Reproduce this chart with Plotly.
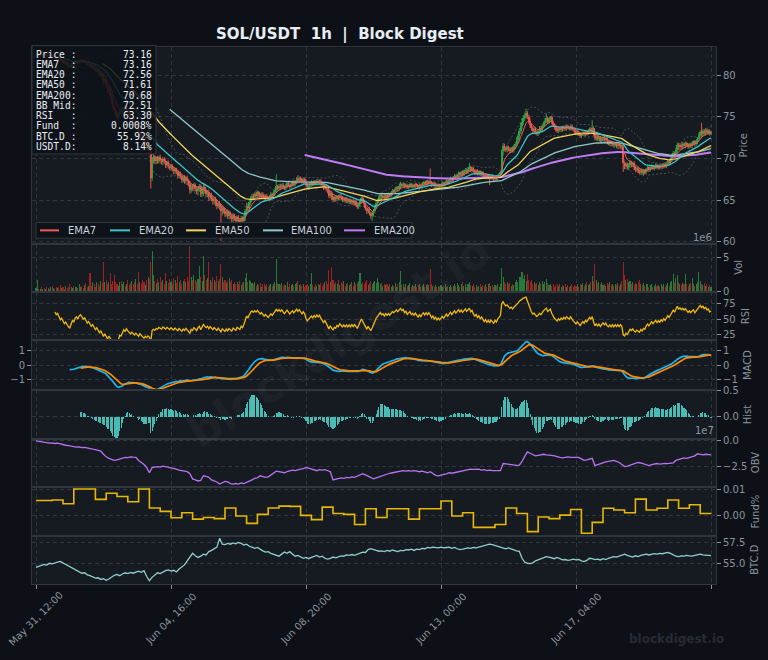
import numpy as np
import pandas as pd
import plotly.graph_objects as go
from plotly.subplots import make_subplots

# ============================ DATA ============================
START = "2024-05-31 12:00"
OPEN0 = 82.30

# hourly closes (SOL/USDT)
closes = [
 82.40, 82.55, 82.35, 82.50, 82.30, 82.45, 82.40, 82.55, 82.35, 82.45,
 82.30, 82.40, 82.20, 82.35, 82.15, 82.00, 82.10, 81.85, 81.70, 81.80,
 81.55, 81.40, 81.50, 81.25, 81.10, 81.00, 81.20, 81.45, 81.35, 81.60,
 81.70, 81.55, 81.80, 81.90, 81.75, 81.60, 81.70, 81.45, 81.30, 81.40,
 81.15, 81.00, 81.10, 80.80, 80.60, 80.70, 80.40, 80.10, 80.20, 79.80,
 79.30, 79.45, 78.70, 78.20, 78.40, 77.60, 76.90, 76.20, 75.80, 75.40,
 75.00, 75.30, 75.80, 75.50, 75.90, 76.20, 75.80, 76.10, 75.60, 75.20,
 74.70, 74.90, 74.40, 74.00, 74.20, 73.60, 73.10, 73.40, 72.70, 72.20,
 71.70, 71.90, 71.30, 71.50, 70.90, 67.60, 69.80, 70.10, 69.60, 70.00,
 69.70, 70.10, 69.80, 69.50, 69.90, 69.60, 69.20, 69.50, 69.10, 68.80,
 69.10, 68.70, 68.40, 68.70, 68.30, 67.90, 68.20, 67.80, 67.40, 67.70,
 67.30, 67.60, 67.20, 66.90, 66.20, 66.70, 66.40, 66.80, 66.30, 66.00,
 66.40, 66.60, 65.70, 66.00, 66.50, 66.10, 65.70, 65.90, 65.30, 65.60,
 65.20, 64.80, 65.10, 64.60, 64.30, 64.60, 64.20, 63.60, 64.00, 63.70,
 63.30, 63.60, 63.10, 63.40, 63.00, 62.70, 63.10, 62.80, 62.50, 62.90,
 62.60, 62.40, 62.80, 62.50, 62.90, 63.60, 64.30, 64.00, 64.70, 65.20,
 65.50, 65.30, 65.70, 65.50, 65.90, 65.60, 65.40, 65.70, 65.40, 65.20,
 65.50, 65.30, 65.10, 65.40, 65.70, 65.50, 65.90, 66.20, 66.60, 66.40,
 66.70, 66.50, 66.80, 66.60, 66.40, 66.70, 67.00, 66.80, 66.60, 66.90,
 67.10, 66.90, 67.20, 67.50, 67.30, 67.60, 67.40, 67.20, 67.50, 67.30,
 66.80, 66.50, 66.70, 66.90, 67.10, 66.90, 67.20, 67.00, 67.30, 67.10,
 67.30, 67.00, 66.80, 66.50, 66.70, 66.30, 66.00, 65.50, 65.80, 65.30,
 65.00, 65.30, 65.10, 65.40, 65.20, 65.50, 65.30, 65.00, 65.20, 64.90,
 65.10, 64.80, 65.00, 64.70, 64.90, 64.60, 64.80, 64.40, 64.20, 64.50,
 64.80, 65.20, 64.90, 64.50, 64.00, 63.60, 63.90, 63.40, 63.00, 63.30,
 63.70, 64.20, 64.60, 64.90, 65.30, 65.60, 65.30, 65.50, 65.20, 65.60,
 65.40, 65.70, 65.50, 65.80, 66.10, 66.00, 66.30, 66.50, 66.30, 66.60,
 66.90, 66.70, 66.90, 66.60, 66.80, 66.50, 66.70, 66.90, 66.60, 66.80,
 66.60, 66.90, 66.70, 66.50, 66.80, 66.60, 66.90, 67.10, 66.90, 67.20,
 67.00, 67.30, 67.10, 66.80, 67.00, 66.70, 66.90, 66.60, 66.80, 66.60,
 66.80, 67.00, 66.80, 67.10, 67.30, 67.10, 67.40, 67.60, 67.40, 67.70,
 67.90, 67.70, 68.00, 68.20, 68.00, 68.30, 68.10, 68.40, 68.60, 68.40,
 68.70, 68.90, 68.60, 68.80, 68.50, 68.30, 68.50, 68.20, 68.40, 68.10,
 68.30, 68.00, 67.80, 68.00, 67.70, 67.90, 67.60, 67.90, 67.70, 67.50,
 67.80, 67.60, 67.90, 68.10, 68.30, 70.80, 71.50, 71.20, 71.00, 71.30,
 71.10, 70.90, 71.20, 71.00, 71.40, 71.70, 72.20, 72.60, 73.30, 73.90,
 74.40, 74.80, 75.10, 75.40, 75.00, 74.50, 74.00, 73.60, 73.30, 73.50,
 73.20, 73.00, 73.30, 73.60, 73.40, 73.90, 74.20, 74.50, 74.80, 74.40,
 74.60, 74.90, 74.40, 74.00, 73.70, 73.50, 73.30, 73.60, 73.40, 73.70,
 73.50, 73.80, 73.60, 73.90, 73.70, 73.60, 73.90, 73.60, 73.40, 73.20,
 73.00, 73.20, 72.90, 72.70, 72.90, 73.10, 72.90, 73.20, 73.00, 73.30,
 73.50, 73.30, 73.60, 73.00, 72.40, 72.60, 72.30, 72.50, 72.10, 72.30,
 72.50, 72.20, 72.40, 72.00, 71.80, 72.00, 71.70, 71.90, 71.60, 71.80,
 71.50, 71.70, 71.40, 71.60, 71.30, 69.40, 69.00, 69.30, 68.90, 69.20,
 69.50, 69.20, 69.40, 68.90, 68.60, 68.80, 68.50, 68.30, 68.60, 68.20,
 68.50, 68.30, 68.70, 68.90, 68.60, 68.90, 69.10, 68.80, 69.00, 69.20,
 68.90, 69.10, 68.90, 69.20, 69.00, 69.30, 69.10, 69.40, 69.70, 69.50,
 69.90, 70.30, 70.60, 70.40, 71.00, 71.60, 71.30, 71.60, 71.40, 71.70,
 71.50, 71.80, 71.60, 71.40, 71.70, 71.50, 71.80, 72.00, 71.70, 72.00,
 72.30, 72.80, 73.10, 72.90, 73.30, 73.00, 73.40, 73.10, 73.30, 73.00,
 73.16,
]

# upper / lower wick beyond the body, in cents
wick_hi = [
 12, 15, 8, 10, 14, 9, 11, 7, 13, 10, 9, 12, 8, 14, 10, 7, 11, 9, 12, 8,
 10, 13, 9, 11, 8, 12, 10, 14, 9, 11, 8, 12, 10, 9, 13, 11, 8, 15, 10, 12,
 18, 14, 20, 16, 12, 22, 15, 18, 25, 20, 30, 22, 18, 26, 20, 24, 30, 19, 22, 28,
 20, 26, 18, 24, 30, 21, 17, 25, 19, 23, 28, 20, 16, 22, 18, 25, 30, 19, 21, 17,
 24, 20, 27, 18, 22, 26, 30, 35, 28, 22, 30, 24, 35, 20, 28, 25, 32, 22, 26, 19,
 25, 20, 28, 22, 18, 30, 24, 20, 26, 22, 30, 25, 35, 20, 40, 28, 24, 30, 22, 26,
 30, 35, 28, 24, 45, 30, 26, 32, 38, 22, 28, 34, 25, 30, 36, 24, 28, 30, 40, 26,
 32, 25, 30, 36, 22, 28, 34, 24, 30, 26, 28, 22, 30, 25, 28, 35, 40, 30, 34, 28,
 26, 30, 22, 28, 24, 20, 26, 22, 25, 30, 20, 24, 18, 22, 26, 20, 24, 28, 150, 25,
 22, 26, 20, 24, 18, 25, 28, 20, 23, 19, 24, 28, 20, 26, 50, 22, 25, 18, 23, 20,
 22, 18, 25, 20, 28, 19, 22, 17, 24, 20, 18, 23, 19, 26, 21, 24, 20, 25, 22, 28,
 24, 20, 26, 19, 23, 21, 25, 18, 22, 20, 24, 19, 23, 17, 22, 20, 25, 18, 21, 24,
 26, 20, 24, 18, 22, 25, 19, 23, 20, 26, 24, 28, 30, 26, 32, 24, 28, 22, 26, 20,
 18, 22, 16, 20, 24, 17, 21, 15, 19, 23, 30, 18, 22, 16, 20, 17, 21, 24, 16, 19,
 17, 21, 15, 19, 23, 16, 20, 18, 15, 22, 24, 18, 150, 20, 16, 18, 22, 15, 19, 17,
 16, 20, 18, 15, 21, 17, 19, 22, 16, 20, 24, 18, 22, 26, 19, 23, 28, 20, 25, 21,
 26, 60, 22, 25, 19, 23, 18, 22, 20, 17, 21, 19, 16, 22, 18, 20, 17, 15, 21, 18,
 19, 22, 17, 20, 18, 30, 35, 28, 24, 30, 22, 26, 20, 25, 28, 30, 35, 32, 38, 40,
 42, 38, 35, 60, 30, 28, 32, 25, 30, 24, 28, 22, 26, 30, 34, 28, 25, 32, 60, 26,
 24, 20, 26, 18, 22, 25, 19, 23, 17, 21, 24, 18, 22, 20, 16, 21, 19, 23, 17, 20,
 18, 22, 16, 20, 24, 17, 21, 19, 23, 18, 22, 26, 100, 24, 20, 25, 18, 22, 19, 23,
 20, 24, 18, 22, 19, 23, 17, 21, 20, 18, 22, 25, 19, 23, 20, 30, 28, 25, 22, 26,
 30, 24, 20, 26, 22, 19, 24, 20, 23, 18, 25, 21, 19, 24, 20, 18, 22, 16, 20, 23,
 17, 21, 19, 16, 22, 18, 20, 24, 17, 21, 25, 28, 30, 24, 32, 35, 26, 30, 24, 28,
 22, 26, 20, 24, 18, 22, 26, 19, 23, 21, 25, 30, 28, 120, 26, 22, 28, 20, 24, 21,
 18,
]
wick_lo = [
 10, 13, 9, 12, 8, 11, 14, 9, 12, 10, 8, 13, 11, 9, 12, 10, 14, 8, 11, 13,
 9, 12, 10, 14, 11, 8, 13, 10, 12, 9, 14, 11, 10, 13, 9, 12, 15, 10, 13, 11,
 20, 16, 22, 18, 14, 25, 20, 16, 28, 24, 35, 26, 22, 30, 24, 28, 34, 22, 26, 30,
 24, 28, 20, 26, 32, 22, 18, 28, 22, 25, 30, 24, 20, 26, 22, 28, 34, 24, 20, 26,
 28, 22, 30, 24, 26, 120, 30, 40, 30, 26, 32, 28, 38, 24, 30, 28, 34, 26, 30, 22,
 28, 24, 32, 26, 22, 34, 28, 24, 30, 26, 35, 28, 40, 24, 45, 30, 28, 34, 26, 30,
 35, 40, 30, 28, 50, 34, 30, 36, 42, 26, 32, 38, 30, 34, 40, 28, 32, 350, 45, 30,
 36, 28, 34, 40, 26, 32, 38, 28, 34, 30, 32, 26, 34, 28, 30, 38, 42, 34, 36, 30,
 28, 32, 24, 30, 26, 22, 28, 24, 27, 32, 22, 26, 20, 24, 28, 22, 26, 30, 28, 26,
 24, 28, 22, 26, 20, 27, 30, 22, 25, 21, 26, 30, 22, 28, 30, 24, 27, 20, 25, 22,
 24, 20, 27, 22, 30, 21, 24, 19, 26, 22, 20, 25, 21, 28, 23, 26, 22, 28, 24, 32,
 26, 22, 28, 21, 25, 23, 27, 20, 24, 22, 26, 21, 25, 19, 24, 22, 27, 20, 23, 26,
 28, 22, 26, 20, 24, 27, 21, 25, 22, 50, 26, 30, 28, 24, 30, 22, 26, 20, 24, 18,
 16, 20, 18, 22, 26, 15, 19, 17, 21, 25, 28, 16, 20, 18, 22, 15, 19, 22, 18, 17,
 19, 23, 17, 21, 25, 18, 22, 20, 17, 24, 26, 20, 22, 22, 18, 20, 24, 17, 21, 19,
 18, 22, 20, 17, 23, 19, 21, 24, 18, 22, 26, 20, 24, 28, 21, 25, 30, 22, 27, 23,
 28, 30, 24, 27, 21, 25, 20, 24, 22, 19, 23, 21, 18, 24, 20, 22, 80, 17, 23, 20,
 21, 24, 19, 22, 20, 25, 30, 26, 22, 28, 24, 28, 22, 27, 30, 26, 30, 28, 34, 36,
 38, 34, 30, 32, 28, 30, 34, 27, 32, 26, 30, 24, 28, 32, 30, 26, 27, 30, 28, 28,
 26, 22, 28, 20, 24, 27, 21, 25, 19, 23, 26, 20, 24, 22, 18, 23, 21, 25, 19, 22,
 20, 24, 18, 22, 26, 19, 23, 21, 25, 20, 24, 28, 26, 26, 22, 27, 20, 24, 21, 25,
 22, 26, 20, 24, 21, 25, 19, 23, 22, 20, 24, 27, 21, 25, 22, 100, 30, 27, 24, 28,
 32, 26, 22, 28, 24, 21, 26, 22, 25, 20, 27, 23, 21, 26, 22, 20, 24, 18, 22, 25,
 19, 23, 21, 18, 24, 20, 22, 26, 19, 23, 27, 30, 28, 26, 30, 32, 28, 26, 22, 26,
 24, 28, 22, 26, 20, 24, 28, 21, 25, 23, 27, 26, 30, 28, 24, 20, 26, 22, 25, 23,
 20,
]

# hourly volume, millions
volumes_m = [
 0.6, 1.7, 0.5, 0.4, 0.7, 0.5, 0.6, 0.4, 0.8, 0.6,
 0.5, 0.7, 0.9, 0.6, 0.5, 0.8, 0.6, 0.7, 1.0, 0.6,
 0.7, 0.5, 0.9, 0.6, 0.8, 1.1, 0.7, 0.6, 0.9, 0.7,
 0.8, 0.6, 1.2, 0.7, 0.9, 0.6, 1.0, 1.3, 0.8, 0.9,
 2.7, 0.9, 1.4, 1.1, 0.8, 1.5, 1.2, 0.9, 1.6, 1.3,
 4.3, 1.4, 1.8, 1.1, 1.5, 2.7, 1.2, 1.6, 2.5, 1.4,
 1.2, 0.9, 1.5, 1.6, 1.1, 1.4, 0.9, 1.2, 1.7, 1.0,
 1.3, 1.6, 1.1, 1.4, 1.9, 1.2, 2.9, 1.5, 1.1, 1.8,
 1.4, 1.0, 1.7, 2.1, 1.9, 4.3, 5.9, 2.4, 1.6, 1.3,
 1.9, 1.4, 2.2, 1.5, 1.8, 1.2, 2.7, 1.6, 1.3, 1.9,
 1.5, 1.2, 2.0, 1.7, 1.3, 2.3, 1.4, 1.8, 1.2, 1.6,
 1.9, 1.4, 2.1, 1.6, 6.6, 2.2, 1.7, 2.5, 1.8, 1.5,
 1.9, 3.8, 2.2, 1.6, 5.2, 2.4, 1.8, 2.0, 4.3, 1.7,
 1.5, 2.1, 1.8, 1.4, 2.3, 1.6, 1.9, 4.1, 2.2, 1.5,
 1.8, 1.3, 1.6, 2.0, 1.4, 1.7, 1.2, 1.5, 1.1, 1.4,
 1.2, 1.6, 1.0, 1.3, 1.5, 2.0, 2.7, 1.4, 1.8, 1.6,
 1.3, 1.1, 1.4, 0.9, 1.2, 1.0, 1.3, 0.8, 1.1, 1.2,
 0.9, 1.1, 0.8, 1.0, 1.2, 0.9, 1.1, 1.4, 4.8, 1.3,
 1.1, 1.0, 1.3, 0.9, 1.2, 1.0, 1.4, 0.8, 1.1, 1.0,
 1.2, 0.9, 1.1, 1.3, 1.6, 1.0, 1.2, 0.9, 1.1, 0.8,
 1.0, 1.2, 0.9, 1.1, 2.7, 1.0, 0.8, 1.1, 0.9, 1.2,
 1.0, 1.3, 0.9, 1.1, 1.4, 1.6, 1.2, 3.2, 1.5, 3.6,
 1.8, 1.2, 1.5, 1.1, 1.7, 1.0, 1.4, 1.2, 1.6, 0.9,
 1.1, 1.3, 1.0, 1.2, 1.5, 0.9, 1.4, 1.1, 1.3, 1.6,
 2.7, 1.2, 1.5, 1.1, 1.4, 1.7, 1.0, 1.3, 1.6, 1.2,
 1.4, 1.6, 1.3, 2.0, 1.5, 1.1, 1.3, 0.9, 1.2, 1.0,
 1.1, 0.9, 1.2, 0.8, 1.0, 0.9, 1.3, 0.8, 1.1, 1.4,
 3.1, 1.0, 1.2, 0.8, 1.1, 0.9, 1.0, 1.3, 0.8, 1.0,
 0.9, 1.1, 0.8, 1.0, 1.2, 0.7, 0.9, 1.1, 0.8, 1.0,
 1.2, 1.0, 3.3, 1.1, 0.9, 0.8, 1.0, 0.7, 0.9, 0.8,
 1.0, 0.8, 0.9, 1.1, 0.7, 0.9, 0.8, 1.0, 0.7, 0.9,
 1.1, 0.9, 1.3, 1.0, 0.8, 1.2, 1.4, 0.9, 1.1, 0.8,
 1.2, 1.5, 1.0, 0.9, 1.1, 0.8, 1.0, 0.7, 0.9, 1.1,
 0.8, 1.0, 0.9, 1.2, 0.8, 1.1, 1.3, 0.9, 1.0, 0.8,
 1.0, 0.9, 1.1, 0.8, 1.2, 3.4, 2.2, 1.5, 1.2, 1.4,
 1.1, 1.3, 0.9, 1.2, 1.0, 1.5, 1.8, 1.4, 2.1, 2.2,
 2.9, 1.9, 2.4, 1.6, 2.6, 1.8, 1.4, 1.7, 1.2, 1.5,
 1.1, 1.3, 1.0, 1.4, 1.2, 1.6, 1.1, 1.5, 1.9, 1.3,
 1.0, 1.2, 0.9, 1.1, 0.8, 1.0, 1.2, 0.9, 1.1, 0.8,
 1.0, 0.9, 1.1, 0.8, 1.0, 0.7, 0.9, 1.1, 0.8, 1.0,
 0.9, 1.1, 0.8, 1.2, 1.0, 1.3, 0.9, 1.1, 1.4, 1.0,
 1.2, 1.5, 2.3, 1.6, 4.0, 1.8, 1.3, 1.5, 1.1, 1.4,
 1.0, 1.2, 0.9, 1.3, 1.1, 1.5, 1.0, 1.2, 0.9, 1.1,
 1.0, 1.3, 0.9, 1.2, 1.6, 4.4, 2.5, 1.7, 1.9, 1.4,
 1.6, 1.2, 1.5, 1.0, 1.3, 1.1, 1.4, 1.8, 1.2, 1.0,
 1.3, 0.9, 1.1, 1.2, 0.8, 1.0, 1.1, 0.8, 0.9, 1.2,
 0.9, 1.0, 0.8, 1.1, 0.9, 1.2, 0.8, 1.0, 1.3, 0.9,
 1.4, 1.6, 2.6, 1.3, 2.0, 2.4, 1.5, 1.2, 1.0, 1.3,
 1.1, 2.6, 1.2, 0.9, 1.1, 1.3, 2.0, 1.1, 0.9, 1.2,
 1.4, 2.9, 1.6, 1.2, 1.0, 1.3, 0.9, 1.1, 0.8, 1.0,
 0.7,
]

# BTC dominance %, every 2 hours
btcd_2h = [
 54.50, 54.62, 54.70, 54.85, 54.78, 55.00, 54.92, 55.08, 55.15, 55.22,
 55.05, 54.90, 54.65, 54.50, 54.30, 54.15, 53.95, 53.80, 53.85, 53.60,
 53.50, 53.35, 53.20, 53.25, 53.05, 53.15, 52.95, 53.10, 53.35, 53.55,
 53.65, 53.50, 53.70, 53.85, 53.75, 53.90, 53.80, 53.95, 54.05, 53.90,
 54.10, 53.40, 52.90, 53.30, 53.60, 53.85, 53.75, 53.95, 54.10, 54.20,
 54.05, 54.15, 53.95, 54.30, 54.60, 54.80, 55.30, 55.80, 56.20, 55.90,
 55.70, 55.85, 56.10, 56.00, 56.40, 56.55, 56.80, 56.95, 58.00, 57.30,
 57.25, 57.40, 57.30, 57.45, 57.35, 57.50, 57.40, 57.20, 57.30, 57.05,
 56.95, 56.80, 56.90, 56.65, 56.50, 56.35, 56.40, 56.20, 56.05, 55.95,
 55.85, 56.10, 56.35, 56.20, 56.40, 56.10, 55.85, 55.95, 55.75, 55.60,
 55.70, 55.55, 55.70, 55.85, 55.95, 55.75, 55.85, 55.60, 55.50, 55.60,
 55.75, 55.65, 55.80, 55.90, 55.85, 56.00, 55.95, 56.05, 55.95, 56.10,
 56.20, 56.35, 56.30, 56.65, 56.75, 56.60, 56.55, 56.45, 56.50, 56.40,
 56.55, 56.45, 56.60, 56.50, 56.40, 56.55, 56.50, 56.65, 56.60, 56.70,
 56.55, 56.70, 56.65, 56.80, 56.75, 56.90, 56.85, 56.95, 56.90, 56.85,
 56.95, 56.85, 56.90, 56.95, 56.80, 56.90, 56.75, 56.65, 56.70, 56.75,
 56.85, 56.80, 56.90, 56.85, 56.95, 57.05, 57.10, 57.20, 57.30, 57.25,
 57.15, 57.05, 56.95, 56.80, 56.75, 56.85, 56.70, 56.60, 56.50, 56.45,
 55.60, 55.15, 55.00, 54.95, 55.05, 55.30, 55.45, 55.55, 55.70, 55.80,
 55.75, 55.60, 55.55, 55.70, 55.50, 55.40, 55.45, 55.35, 55.40, 55.50,
 55.40, 55.45, 55.30, 55.20, 55.35, 55.60, 55.55, 55.45, 55.50, 55.40,
 55.55, 55.45, 55.60, 55.70, 55.80, 55.75, 55.90, 56.00, 56.10, 55.95,
 55.85, 55.75, 55.90, 55.80, 55.95, 56.05, 56.10, 56.00, 56.05, 56.15,
 56.10, 56.20, 56.15, 56.25, 56.30, 56.20, 56.05, 55.85, 55.80, 55.90,
 55.85, 55.95, 55.90, 55.85, 55.95, 56.05, 56.10, 56.00, 55.95, 55.90,
 55.92,
]

# On-balance volume, x1e7, every 2 hours
obv_2h = [
 0.00, -0.05, -0.10, -0.08, -0.18, -0.22, -0.20, -0.25, -0.22, -0.30,
 -0.35, -0.42, -0.45, -0.52, -0.55, -0.60, -0.58, -0.65, -0.62, -0.70,
 -0.75, -0.80, -0.85, -0.95, -1.00, -1.30, -1.55, -1.70, -1.80, -1.90,
 -1.85, -1.75, -1.65, -1.60, -1.62, -1.55, -1.58, -1.60, -1.90, -2.10,
 -2.30, -2.60, -3.10, -2.60, -2.55, -2.50, -2.55, -2.45, -2.50, -2.55,
 -2.60, -2.70, -2.75, -2.85, -2.90, -2.95, -3.00, -3.20, -3.70, -3.80,
 -3.90, -3.85, -3.40, -3.45, -3.55, -3.80, -3.90, -4.00, -4.20, -4.10,
 -3.95, -4.00, -4.15, -4.20, -4.15, -4.20, -4.10, -4.15, -4.05, -3.95,
 -3.80, -3.65, -3.60, -3.40, -3.45, -3.55, -3.50, -3.30, -3.10, -2.95,
 -3.00, -3.05, -3.10, -3.00, -2.95, -2.85, -2.90, -2.80, -2.75, -2.70,
 -2.60, -2.65, -2.75, -2.85, -2.90, -2.80, -2.85, -2.80, -2.90, -3.00,
 -3.80, -3.75, -3.70, -3.60, -3.65, -3.55, -3.60, -3.50, -3.55, -3.45,
 -3.35, -3.20, -3.30, -3.45, -3.60, -3.70, -3.60, -3.50, -3.40, -3.35,
 -3.25, -3.15, -3.10, -3.05, -3.00, -2.95, -2.90, -2.95, -2.90, -2.95,
 -2.90, -2.95, -3.00, -2.95, -3.05, -3.10, -3.00, -3.20, -3.35, -3.40,
 -3.30, -3.25, -3.20, -3.10, -3.15, -3.10, -3.05, -3.00, -2.95, -2.90,
 -2.80, -2.75, -2.78, -2.80, -2.75, -2.85, -2.80, -2.90, -2.85, -2.90,
 -2.92, -2.88, -2.90, -2.20, -2.25, -2.30, -2.35, -2.40, -2.38, -2.35,
 -2.00, -1.50, -1.06, -1.20, -1.35, -1.45, -1.40, -1.35, -1.30, -1.35,
 -1.35, -1.40, -1.45, -1.55, -1.60, -1.65, -1.60, -1.55, -1.60, -1.58,
 -1.55, -1.60, -1.75, -1.90, -1.85, -1.80, -1.70, -2.40, -2.30, -2.20,
 -2.10, -2.05, -2.00, -1.95, -1.90, -2.00, -2.10, -2.30, -2.50, -2.45,
 -2.35, -2.30, -2.20, -2.10, -2.15, -2.25, -2.35, -2.40, -2.30, -2.25,
 -2.20, -2.25, -2.20, -2.18, -2.22, -2.20, -2.15, -1.90, -1.80, -1.75,
 -1.65, -1.70, -1.60, -1.55, -1.45, -1.25, -1.30, -1.35, -1.30, -1.32,
 -1.35,
]

# funding rate %, 8-hour settlements
funding_hours = [0] + list(range(4, 501, 8))
funding_pct = [
 0.0058, 0.0058, 0.0060, 0.0046, 0.0101, 0.0101, 0.0062, 0.0085, 0.0073, 0.0053,
 0.0101, 0.0030, 0.0017, -0.0007, 0.0012, -0.0012, -0.0006, -0.0010, 0.0030, 0.0000,
 -0.0028, 0.0006, 0.0030, 0.0037, 0.0036, 0.0002, -0.0014, 0.0033, 0.0009, 0.0006,
 -0.0032, 0.0027, -0.0006, 0.0027, 0.0027, -0.0012, 0.0027, 0.0027, 0.0056, 0.0000,
 0.0012, -0.0043, -0.0043, -0.0032, 0.0030, 0.0009, -0.0059, -0.0004, -0.0010, 0.0003,
 0.0024, -0.0065, -0.0024, 0.0029, 0.0022, 0.0012, 0.0063, 0.0022, 0.0029, 0.0060,
 0.0029, 0.0042, 0.0009, 0.0008,
]

# info box values
info_labels = ["Price :", "EMA7  :", "EMA20 :", "EMA50 :", "EMA200:",
               "BB Mid:", "RSI   :", "Fund  :", "BTC.D :", "USDT.D:"]
info_values = ["73.16", "73.16", "72.56", "71.61", "70.68",
               "72.51", "63.30", "0.0008%", "55.92%", "8.14%"]

x_tick_hours = [0, 100, 200, 300, 400, 500]
x_tick_text = ["May 31, 12:00", "Jun 04, 16:00", "Jun 08, 20:00",
               "Jun 13, 00:00", "Jun 17, 04:00", ""]

TITLE = "SOL/USDT\u00a0\u00a01h\u00a0\u00a0|\u00a0\u00a0Block Digest"

# ============================ STYLE ============================
W, H = 768, 660
BG = "#0d1117"
PANEL = "#161b22"
GRID = "#30363d"
SPINE = "#30363d"
TXT = "#8b949e"
UP = "#2ea043"
DN = "#e5534b"
C_EMA = {7: "#ef5b5b", 20: "#3cc4c8", 50: "#f2d45c", 100: "#8fc9c9", 200: "#c07cf5"}
W_EMA = {7: 1.0, 20: 1.3, 50: 1.3, 100: 1.3, 200: 2.0}


def px(x):
    return x / W


def py(y):
    return 1 - y / H


# ============================ DERIVED ============================
n = min(len(closes), len(wick_hi), len(wick_lo), len(volumes_m))
t0 = pd.Timestamp(START)
t = pd.date_range(START, periods=n, freq="h")
c = pd.Series(closes[:n], dtype=float)
o = c.shift(1)
o.iloc[0] = OPEN0
hi = (np.maximum(o, c) + np.asarray(wick_hi[:n], dtype=float) / 100.0).to_numpy()
lo = (np.minimum(o, c) - np.asarray(wick_lo[:n], dtype=float) / 100.0).to_numpy()
vol = np.asarray(volumes_m[:n], dtype=float) * 1e6
up = (c >= o).to_numpy()


def ema(s, p):
    return s.ewm(span=p, adjust=False, min_periods=p).mean()


emas = {p: ema(c, p) for p in (7, 20, 50, 100, 200)}
bb_mid = c.rolling(20).mean()
bb_sd = c.rolling(20).std()
bb_up = bb_mid + 2 * bb_sd
bb_lo = bb_mid - 2 * bb_sd

d = c.diff()
ag = d.clip(lower=0).ewm(alpha=1 / 14, adjust=False, min_periods=14).mean()
al = (-d).clip(lower=0).ewm(alpha=1 / 14, adjust=False, min_periods=14).mean()
rsi = 100 - 100 / (1 + ag / al)

macd = ema(c, 12) - ema(c, 26)
signal = macd.ewm(span=9, adjust=False, min_periods=9).mean()
hist = macd - signal

t2 = pd.date_range(START, periods=len(btcd_2h), freq="2h")
t2o = pd.date_range(START, periods=len(obv_2h), freq="2h")
tf = [t0 + pd.Timedelta(hours=hh) for hh in funding_hours[:len(funding_pct)]]

# ============================ FIGURE ============================
fig = make_subplots(rows=8, cols=1, shared_xaxes=True, vertical_spacing=0,
                    row_heights=[4, 1, 1, 1, 1, 1, 1, 1])

for band in (bb_up, bb_lo):
    fig.add_trace(go.Scatter(x=t, y=band, mode="lines",
                             line=dict(color="rgba(139,148,158,0.55)", width=0.8, dash="2px,2px"),
                             hoverinfo="skip", showlegend=False), row=1, col=1)

# candles: wicks + bodies
bar_w = 0.8 * 3600 * 1000
body_base = np.minimum(o, c).to_numpy()
body_h = np.maximum(np.abs((c - o).to_numpy()), 0.03)
for mask, col in ((up, UP), (~up, DN)):
    idx = np.where(mask)[0]
    wx, wy = [], []
    for i in idx:
        wx += [t[i], t[i], None]
        wy += [lo[i], hi[i], None]
    fig.add_trace(go.Scatter(x=wx, y=wy, mode="lines", line=dict(color=col, width=1),
                             hoverinfo="skip", showlegend=False), row=1, col=1)
    fig.add_trace(go.Bar(x=t[idx], y=body_h[idx], base=body_base[idx], width=bar_w,
                         marker=dict(color=col, line=dict(width=0)), showlegend=False),
                  row=1, col=1)

for p in (200, 100, 50, 20, 7):
    fig.add_trace(go.Scatter(x=t, y=emas[p], mode="lines", name=f"EMA{p}",
                             line=dict(color=C_EMA[p], width=W_EMA[p]),
                             showlegend=False), row=1, col=1)

vcol = np.where(up, "rgba(46,160,67,0.72)", "rgba(200,35,35,0.78)")
fig.add_trace(go.Bar(x=t, y=vol, marker=dict(color=vcol, line=dict(width=0)),
                     width=bar_w, showlegend=False), row=2, col=1)

fig.add_trace(go.Scatter(x=t, y=rsi, mode="lines", line=dict(color="#f0b90b", width=1.3),
                         showlegend=False), row=3, col=1)

fig.add_trace(go.Scatter(x=t, y=macd, mode="lines", line=dict(color="#1eb4f0", width=1.7),
                         showlegend=False), row=4, col=1)
fig.add_trace(go.Scatter(x=t, y=signal, mode="lines", line=dict(color="#ff8c00", width=1.7),
                         showlegend=False), row=4, col=1)

fig.add_trace(go.Bar(x=t, y=hist, marker=dict(color="rgba(78,205,196,0.9)", line=dict(width=0)),
                     width=bar_w, showlegend=False), row=5, col=1)

fig.add_trace(go.Scatter(x=t2o, y=np.asarray(obv_2h) * 1e7, mode="lines",
                         line=dict(color="#b972f0", width=1.3), showlegend=False), row=6, col=1)

fig.add_trace(go.Scatter(x=tf, y=funding_pct, mode="lines", line_shape="hv",
                         line=dict(color="#e6b800", width=1.6), showlegend=False), row=7, col=1)

fig.add_trace(go.Scatter(x=t2, y=btcd_2h, mode="lines",
                         line=dict(color="#8fd0c8", width=1.3), showlegend=False), row=8, col=1)

fig.add_trace(go.Scatter(x=[t0], y=[None], mode="markers", marker=dict(opacity=0),
                         xaxis="x4", yaxis="y9", showlegend=False, hoverinfo="skip"))

# ============================ AXES ============================
bounds = [44, 243, 292, 341, 391, 441, 490, 539, 588]
yranges = [
    [59.76, 83.36], [-0.04e6, 6.92e6], [15.3, 94.4], [-1.695, 1.695],
    [-0.425, 0.519], [-4.52e7, 0.19e7], [-0.0074, 0.01074], [52.5, 58.33],
]
yticks = [
    ([60, 65, 70, 75, 80], ["60", "65", "70", "75", "80"]),
    ([0, 5e6], ["0", "5"]),
    ([25, 50, 75], ["25", "50", "75"]),
    ([-1, 0, 1], ["\u22121", "0", "1"]),
    ([0, 0.5], ["0.0", "0.5"]),
    ([-2.5e7, 0], ["\u22122.5", "0.0"]),
    ([0, 0.01], ["0.00", "0.01"]),
    ([55, 57.5], ["55.0", "57.5"]),
]
xr = [t0 + pd.Timedelta(hours=-2.96), t0 + pd.Timedelta(hours=503.7)]
xtv = [t0 + pd.Timedelta(hours=hh) for hh in x_tick_hours]
xdom = [px(32), px(716)]

common = dict(showline=True, mirror=True, linecolor=SPINE, linewidth=1, zeroline=False,
              showgrid=True, gridcolor=GRID, gridwidth=0.7, griddash="4px,3px",
              tickfont=dict(family="DejaVu Sans", size=10, color=TXT),
              tickcolor=TXT, ticklen=4, tickwidth=1, fixedrange=True)

for i in range(8):
    k = "" if i == 0 else str(i + 1)
    last = (i == 7)
    fig.layout["xaxis" + k].update(
        domain=xdom, range=xr, tickvals=xtv, tickmode="array",
        showticklabels=False, ticks="outside" if last else "",
        rangeslider=dict(visible=False), **common)
    fig.layout["yaxis" + k].update(
        domain=[py(bounds[i + 1]), py(bounds[i])], range=yranges[i], side="right",
        tickmode="array", tickvals=yticks[i][0], ticktext=yticks[i][1],
        ticks="outside", **common)

fig.update_layout(yaxis9=dict(overlaying="y4", anchor="x4", side="left", range=yranges[3],
                              tickmode="array", tickvals=[-1, 0, 1],
                              ticktext=["\u22121", "0", "1"], ticks="outside", ticklen=4,
                              tickcolor=TXT, showgrid=False, zeroline=False, showline=False,
                              tickfont=dict(family="DejaVu Sans", size=10, color=TXT),
                              fixedrange=True))

fig.update_layout(width=W, height=H, margin=dict(l=0, r=0, t=0, b=0),
                  paper_bgcolor=BG, plot_bgcolor=PANEL, showlegend=False,
                  barmode="overlay", bargap=0, hovermode=False,
                  font=dict(family="DejaVu Sans", size=10, color=TXT))

# ============================ ANNOTATIONS ============================
ann = []
shapes = []

ann.append(dict(text="<b>" + TITLE + "</b>", x=px(340), y=py(31), xref="paper", yref="paper",
                showarrow=False, xanchor="center", yanchor="middle",
                font=dict(family="DejaVu Sans", size=15, color="#e6edf3")))

ann.append(dict(text="<b>blockdigest.io</b>", x=px(338), y=py(342), xref="paper", yref="paper",
                showarrow=False, textangle=-33, xanchor="center", yanchor="middle",
                font=dict(family="DejaVu Sans", size=44, color="rgba(255,255,255,0.05)")))
ann.append(dict(text="<b>blockdigest.io</b>", x=px(726), y=py(644), xref="paper", yref="paper",
                showarrow=False, xanchor="right", yanchor="middle",
                font=dict(family="DejaVu Sans", size=12, color="#262b33")))

# x tick labels, centred under ticks (rotated 45 deg)
for tv, tt in zip(xtv, x_tick_text):
    if tt:
        ann.append(dict(text=tt, x=tv, xref="x8", y=py(623), yref="paper", showarrow=False,
                        textangle=-45, xanchor="center", yanchor="middle",
                        font=dict(family="DejaVu Sans", size=10, color=TXT)))

# y axis titles
titles = ["Price", "Vol", "RSI", "MACD", "Hist", "OBV", "Fund%", "BTC.D"]
title_x = [744, 739, 745, 747, 747, 755, 755, 755]
for i, tt in enumerate(titles):
    cy = (bounds[i] + bounds[i + 1]) / 2
    ann.append(dict(text=tt, x=px(title_x[i]), y=py(cy), xref="paper", yref="paper",
                    showarrow=False, textangle=-90, xanchor="center", yanchor="middle",
                    font=dict(family="DejaVu Sans", size=10, color=TXT)))

ann.append(dict(text="1e6", x=px(714), y=py(236.5), xref="paper", yref="paper", showarrow=False,
                xanchor="right", yanchor="middle", font=dict(family="DejaVu Sans", size=10, color=TXT)))
ann.append(dict(text="1e7", x=px(716), y=py(432.5), xref="paper", yref="paper", showarrow=False,
                xanchor="right", yanchor="middle", font=dict(family="DejaVu Sans", size=10, color=TXT)))

# info box
shapes.append(dict(type="rect", xref="paper", yref="paper", x0=px(32), x1=px(156),
                   y0=py(152), y1=py(42), fillcolor="rgba(13,17,23,0.85)",
                   line=dict(color=SPINE, width=1), layer="above"))
for j, (lab, val) in enumerate(zip(info_labels, info_values)):
    yy = py(50.7 + 10.4 * j)
    ann.append(dict(text=lab.replace(" ", "\u00a0"), x=px(34), y=yy, xref="paper", yref="paper",
                    showarrow=False, xanchor="left", yanchor="middle",
                    font=dict(family="DejaVu Sans Mono", size=9.6, color="#e6edf3")))
    ann.append(dict(text=val, x=px(154), y=yy, xref="paper", yref="paper",
                    showarrow=False, xanchor="right", yanchor="middle",
                    font=dict(family="DejaVu Sans Mono", size=9.6, color="#e6edf3")))

# legend
shapes.append(dict(type="rect", xref="paper", yref="paper", x0=px(36), x1=px(412),
                   y0=py(237.5), y1=py(221.5), fillcolor="rgba(13,17,23,0.85)",
                   line=dict(color=SPINE, width=1), layer="above"))
leg = [(7, 40, 59, 66), (20, 110, 130, 137), (50, 186, 206, 213),
       (100, 263, 283, 289), (200, 344, 365, 372)]
for p, lx0, lx1, tx in leg:
    shapes.append(dict(type="line", xref="paper", yref="paper", x0=px(lx0), x1=px(lx1),
                       y0=py(229.5), y1=py(229.5), line=dict(color=C_EMA[p], width=2),
                       layer="above"))
    ann.append(dict(text=f"EMA{p}", x=px(tx), y=py(229.5), xref="paper", yref="paper",
                    showarrow=False, xanchor="left", yanchor="middle",
                    font=dict(family="DejaVu Sans", size=10, color="#c9d1d9")))

fig.update_layout(annotations=ann, shapes=shapes)

fig.write_html("out.html", config={"displayModeBar": False})
